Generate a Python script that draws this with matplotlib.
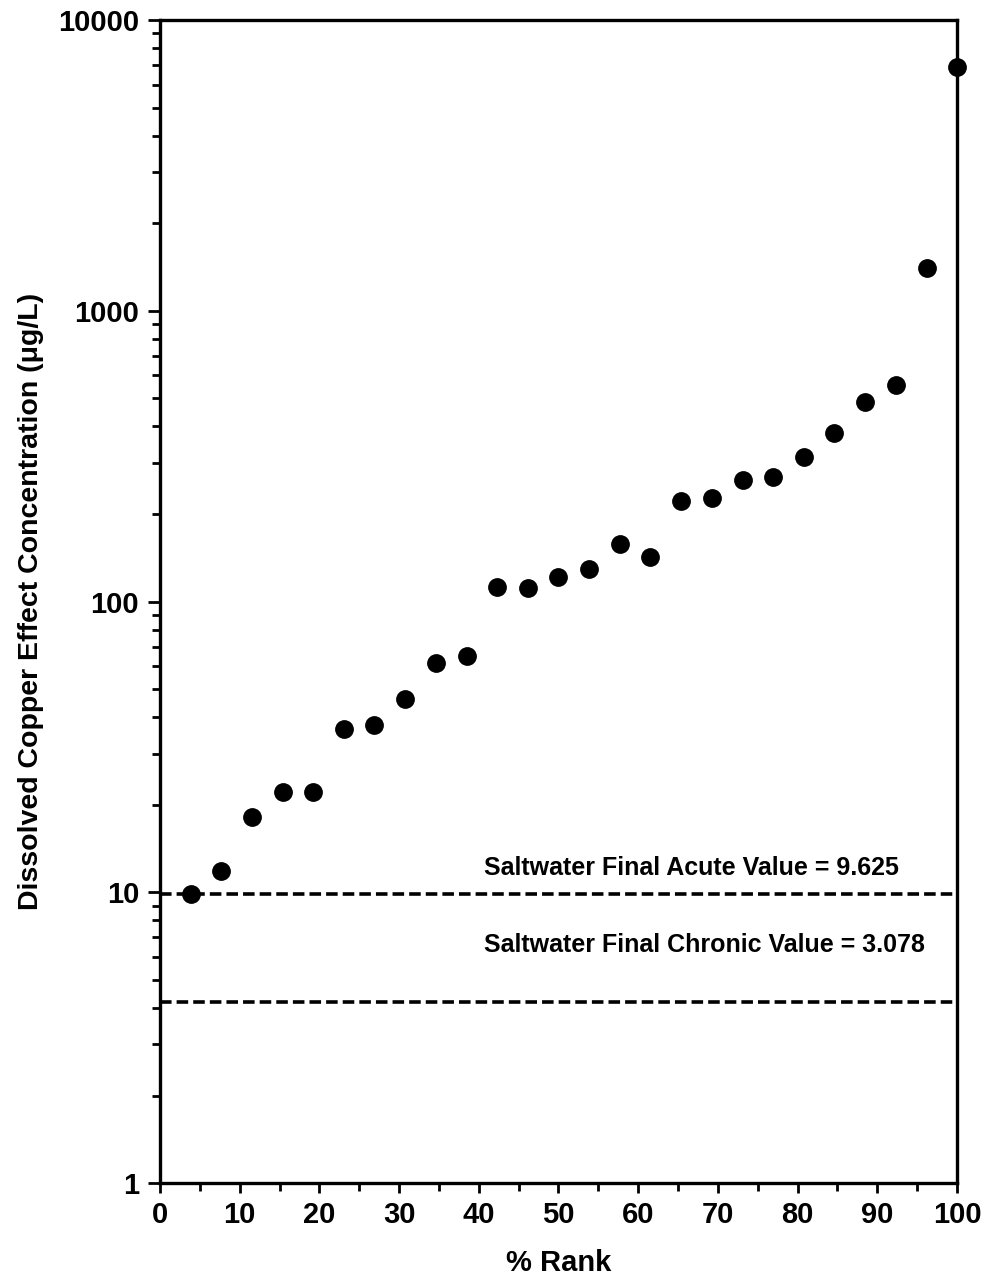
import matplotlib
matplotlib.use("Agg")
import matplotlib.pyplot as plt
from matplotlib.ticker import LogLocator, FixedLocator, NullFormatter

plt.rcParams['font.family'] = ['Liberation Sans', 'DejaVu Sans']

rank = [3.85, 7.69, 11.5, 15.4, 19.2, 23.1, 26.9, 30.8, 34.6, 38.5, 42.3, 46.2, 50.0,
        53.8, 57.7, 61.5, 65.4, 69.2, 73.1, 76.9, 80.8, 84.6, 88.5, 92.3, 96.2, 100.0]
conc = [9.85, 11.8, 18.1, 22.1, 22.1, 36.4, 37.6, 46.2, 61.4, 64.9, 112, 111, 121,
        129, 158, 142, 222, 227, 262, 268, 314, 380, 485, 556, 1403, 6890]

acute_level = 9.9
chronic_level = 4.2
acute_label = "Saltwater Final Acute Value = 9.625"
chronic_label = "Saltwater Final Chronic Value = 3.078"

fig = plt.figure(figsize=(9.87, 12.82), dpi=100)
ax = fig.add_axes([0.1621, 0.0772, 0.8075, 0.9072])

ax.plot(rank, conc, 'o', color='black', markersize=12.5, zorder=3, clip_on=False)
ax.axhline(acute_level, color='black', linestyle=(0, (3.2, 1.4)), linewidth=2.6)
ax.axhline(chronic_level, color='black', linestyle=(0, (3.2, 1.4)), linewidth=2.6)

ax.text(0.406, 11.0, acute_label, transform=ax.get_yaxis_transform(), fontsize=18,
        fontweight='bold', va='bottom', ha='left')
ax.text(0.406, 6.0, chronic_label, transform=ax.get_yaxis_transform(), fontsize=18,
        fontweight='bold', va='bottom', ha='left')

ax.set_yscale('log')
ax.set_ylim(1, 10000)
ax.set_xlim(0, 100)
ax.set_yticks([1, 10, 100, 1000, 10000])
ax.set_yticklabels(['1', '10', '100', '1000', '10000'])
ax.yaxis.set_minor_locator(LogLocator(base=10, subs=range(2, 10)))
ax.yaxis.set_minor_formatter(NullFormatter())
ax.set_xticks(range(0, 101, 10))
ax.xaxis.set_minor_locator(FixedLocator(range(5, 100, 10)))

for s in ax.spines.values():
    s.set_linewidth(2.4)

ax.tick_params(axis='both', which='major', direction='out', length=7, width=2,
               labelsize=21, pad=6)
ax.tick_params(axis='both', which='minor', direction='out', length=6, width=2)
ax.tick_params(axis='y', which='major', length=9)
for lbl in ax.get_xticklabels() + ax.get_yticklabels():
    lbl.set_fontweight('bold')

ax.set_xlabel('% Rank', fontsize=21, fontweight='bold', labelpad=14)
ax.set_ylabel('Dissolved Copper Effect Concentration (\u03bcg/L)', fontsize=20.5,
              fontweight='bold', labelpad=10)

fig.savefig('out.png', dpi=100)
